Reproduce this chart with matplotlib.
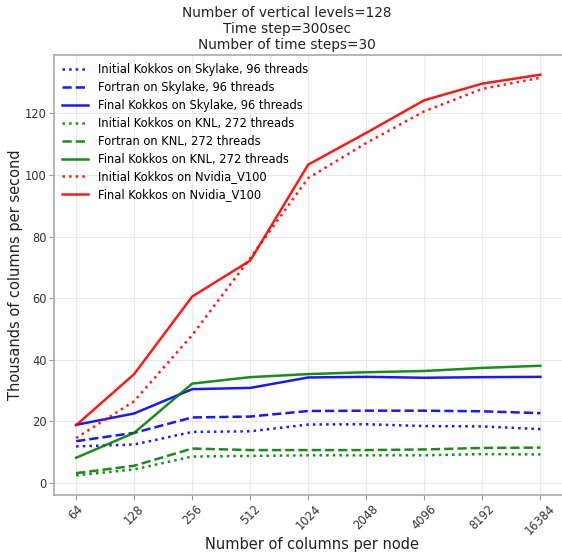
import matplotlib
matplotlib.use("Agg")
import matplotlib.pyplot as plt
import numpy as np

columns = ["64", "128", "256", "512", "1024", "2048", "4096", "8192", "16384"]

sky_init = [11.8, 12.4, 16.5, 16.7, 18.9, 19.0, 18.4, 18.3, 17.4]
sky_fortran = [13.5, 16.2, 21.2, 21.5, 23.3, 23.4, 23.4, 23.2, 22.6]
sky_final = [18.8, 22.5, 30.4, 30.8, 34.2, 34.4, 34.1, 34.3, 34.4]
knl_init = [2.4, 4.3, 8.5, 8.7, 8.9, 8.9, 8.9, 9.3, 9.2]
knl_fortran = [3.1, 5.5, 11.1, 10.6, 10.6, 10.6, 10.8, 11.3, 11.4]
knl_final = [8.1, 16.2, 32.2, 34.3, 35.3, 35.9, 36.3, 37.3, 38.0]
gpu_init = [14.5, 26.5, 48.0, 73.0, 99.0, 110.4, 120.7, 128.0, 131.6]
gpu_final = [18.7, 35.3, 60.5, 72.2, 103.4, 113.7, 124.3, 129.7, 132.6]

labels = [
    "Initial Kokkos on Skylake, 96 threads",
    "Fortran on Skylake, 96 threads",
    "Final Kokkos on Skylake, 96 threads",
    "Initial Kokkos on KNL, 272 threads",
    "Fortran on KNL, 272 threads",
    "Final Kokkos on KNL, 272 threads",
    "Initial Kokkos on Nvidia_V100",
    "Final Kokkos on Nvidia_V100",
]
series = [sky_init, sky_fortran, sky_final, knl_init, knl_fortran, knl_final, gpu_init, gpu_final]
colors = ["blue", "blue", "blue", "green", "green", "green", "red", "red"]
styles = [":", "--", "-", ":", "--", "-", ":", "-"]

W, H = 562, 553
fig = plt.figure(figsize=(W / 100, H / 100), dpi=100)
L, R, T, B = 53.5, 563, 55.3, 495
ax = fig.add_axes([L / W, 1 - B / H, (R - L) / W, (B - T) / H])

x = np.arange(len(columns))
for ys, lab, c, ls in zip(series, labels, colors, styles):
    ax.plot(x, ys, linestyle=ls, color=c, lw=1.8, label=lab, alpha=0.9)

ax.set_xticks(x)
ax.set_xticklabels(columns, rotation=45, fontsize=8.3, color="#333333")
ax.set_yticks([0, 20, 40, 60, 80, 100, 120])
ax.tick_params(axis="y", labelsize=8.3, labelcolor="#333333", color="#999999", length=3.5, pad=1.5)
ax.tick_params(axis="x", color="#999999", length=3.5, pad=2)
ax.set_xlim(-0.39, 8.39)
ax.set_ylim(-4.0, 138.9)
ax.grid(True, color="#e8e8e8", lw=0.8)
for s in ax.spines.values():
    s.set_color("#aaaaaa")
    s.set_linewidth(1.2)

fig.text(16 / W, 1 - 275 / H, "Thousands of columns per second", rotation=90,
         fontsize=10.5, color="#222222", ha="center", va="center")
fig.text(312 / W, 1 - 545 / H, "Number of columns per node",
         fontsize=10.5, color="#222222", ha="center", va="center")
fig.text(287 / W, 1 - 29 / H, "Number of vertical levels=128\nTime step=300sec\nNumber of time steps=30",
         fontsize=9.8, color="#222222", ha="center", va="center", linespacing=1.15)

ax.legend(loc="upper left", fontsize=8.3, frameon=False, handlelength=2.3,
          handletextpad=0.85, labelspacing=0.42, borderaxespad=0.3,
          borderpad=0.4)

fig.savefig("out.png", dpi=100)
